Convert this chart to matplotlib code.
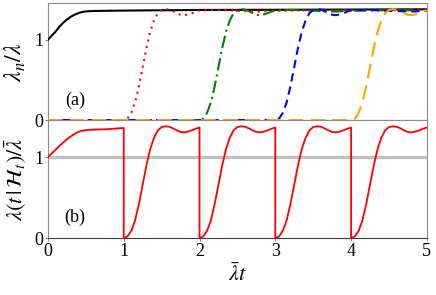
import matplotlib
matplotlib.use("Agg")
import matplotlib.pyplot as plt
import numpy as np

plt.rcParams['font.family'] = ['Liberation Serif', 'DejaVu Serif']
plt.rcParams['mathtext.fontset'] = 'stix'

# hazard after an event, sampled at s = 0, 0.05, ..., 1 (time since last event)
s_grid = np.linspace(0, 1, 21)
rise = [0.00, 0.02, 0.09, 0.22, 0.42, 0.66, 0.90, 1.10, 1.24, 1.33, 1.37,
        1.38, 1.375, 1.355, 1.33, 1.31, 1.305, 1.315, 1.33, 1.35, 1.365]

# conditional intensity in the first interval (starts from the mean rate)
first = [1.00, 1.045, 1.09, 1.135, 1.18, 1.22, 1.255, 1.285, 1.31, 1.325, 1.333,
         1.337, 1.339, 1.34, 1.341, 1.343, 1.346, 1.349, 1.352, 1.356, 1.36]

# black curve (n = 1)
t_black = [0, 0.05, 0.1, 0.15, 0.2, 0.25, 0.3, 0.35, 0.4, 0.45, 0.5, 0.6, 0.8,
           1.0, 1.5, 2.0, 3.0, 4.0, 5.0]
lam_black = [1.00, 1.05, 1.10, 1.16, 1.21, 1.25, 1.285, 1.31, 1.33, 1.345, 1.352,
             1.357, 1.36, 1.362, 1.366, 1.37, 1.372, 1.375, 1.378]

# settled part after first interval, at s = 1 + ...
s_tail = [1.0, 1.2, 1.4, 1.6, 1.8, 2.0, 2.4, 2.8, 3.2, 3.6, 4.0]
tail = [1.365, 1.37, 1.365, 1.355, 1.35, 1.36, 1.365, 1.365, 1.37, 1.37, 1.372]

event_times = [1, 2, 3, 4]
t_end = 5
colors = ['red', 'green', 'blue', 'orange']
styles = [(0, (1, 2.2)), (0, (6, 2, 1, 2)), (0, (4, 2.5)), (0, (7, 3.5))]

fig = plt.figure(figsize=(4.36, 2.95), dpi=100)
ax1 = fig.add_axes([0.110, 0.593, 0.869, 0.397])
ax2 = fig.add_axes([0.110, 0.193, 0.869, 0.400], sharex=ax1)

# (a) rates of each curve
ax1.plot(t_black, lam_black, color='black', lw=1.5, zorder=3)
for tk, c, ls in zip(event_times, colors, styles):
    t = np.concatenate([[0, tk], tk + s_grid[1:], tk + np.array(s_tail[1:])])
    y = np.concatenate([[0, 0], rise[1:], tail[1:]])
    m = t <= t_end
    ax1.plot(t[m], y[m], color=c, lw=1.5, linestyle=ls, zorder=3)

# (b) conditional intensity
ax2.axhline(1, color='#c0c0c0', lw=2.3, zorder=1)
tt = list(s_grid)
yy = list(first)
for tk in event_times:
    tt += [tk] + list(tk + s_grid)
    yy += [0] + rise
ax2.plot(tt, yy, color='red', lw=1.3, zorder=3)

for ax in (ax1, ax2):
    ax.set_xlim(0, 5)
    ax.set_ylim(0, 1.457)
    ax.set_yticks([0, 1])
    for side in ['left', 'right', 'top']:
        ax.spines[side].set_color('#8c8c8c')
    ax.spines['bottom'].set_color('#404040')
    ax.tick_params(length=2.5, width=0.8, color='#8c8c8c', labelsize=13, pad=1)

ax1.tick_params(axis='x', length=0, labelbottom=False)
ax2.set_xticks([0, 1, 2, 3, 4, 5])

ax1.text(0.356, 0.25, '(a)', fontsize=13, ha='center', va='center')
ax2.text(0.356, 0.25, '(b)', fontsize=13, ha='center', va='center')

fig.text(0.032, 0.79, r'$\lambda_n/\bar{\lambda}$', rotation=90, fontsize=17,
         ha='center', va='center')
fig.text(0.036, 0.393, r'$\lambda(t\,|\,\mathcal{H}_t)/\bar{\lambda}$', rotation=90,
         fontsize=16, ha='center', va='center')
fig.text(0.545, 0.071, r'$\bar{\lambda}t$', fontsize=16, ha='center', va='center')

fig.savefig('out.png', dpi=100)
